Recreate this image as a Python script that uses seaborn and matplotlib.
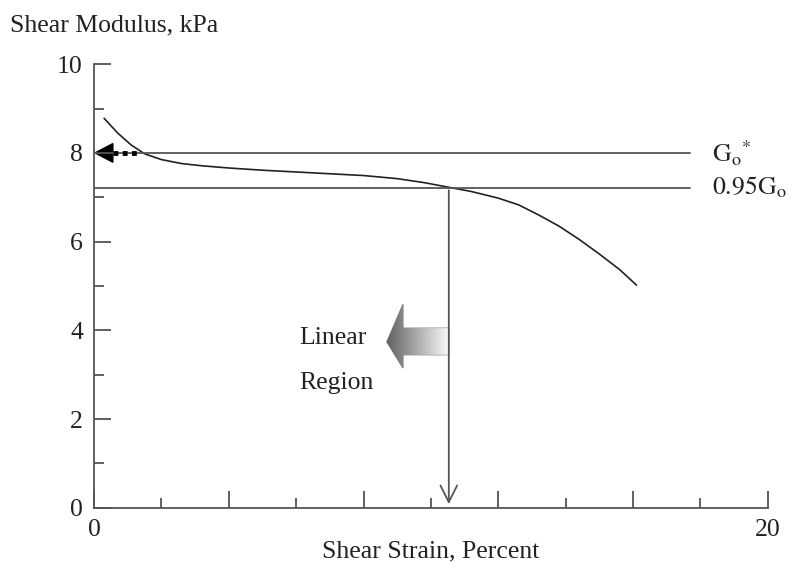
import matplotlib
matplotlib.use('Agg')
import matplotlib.pyplot as plt
from matplotlib.patches import Polygon
import numpy as np
import pandas as pd
import seaborn as sns

# curve
strain = [0.3, 0.7, 1.1, 1.5, 2.0, 2.6, 3.2, 4.0, 5.0, 6.0, 7.0, 8.0, 9.0, 9.8, 10.5,
          11.2, 12.0, 12.6, 13.2, 13.8, 14.4, 15.0, 15.6, 16.1]
modulus = [8.78, 8.45, 8.18, 7.98, 7.85, 7.76, 7.71, 7.66, 7.61, 7.57, 7.53, 7.49, 7.42, 7.33, 7.23,
           7.13, 6.98, 6.83, 6.6, 6.35, 6.05, 5.72, 5.37, 5.02]
g0 = 8.0
g095 = 7.22
strain_linear = 10.53
line_end = 17.7

df = pd.DataFrame({'strain': strain, 'modulus': modulus})

sns.set_style('ticks')
plt.rcParams['font.family'] = ['Liberation Serif', 'DejaVu Serif']
plt.rcParams['mathtext.fontset'] = 'stix'
fs = 18.5

fig = plt.figure(figsize=(7.9, 5.63), dpi=100)
ax = fig.add_axes([0.119, 0.098, 0.853, 0.788])

sns.lineplot(x='strain', y='modulus', data=df, ax=ax, color='#222222', lw=1.2)

# reference lines
ax.plot([0, line_end], [g0, g0], color='#555555', lw=1.3)
ax.plot([0, line_end], [g095, g095], color='#555555', lw=1.3)
ax.text(18.34, g0, r'$\mathrm{G_o}^{*}$', fontsize=fs, va='center', color='#222222')
ax.text(18.34, g095, r'$\mathrm{0.95G_o}$', fontsize=fs, va='center', color='#222222')

# vertical arrow down to the axis
ax.annotate('', xy=(strain_linear, 0.02), xytext=(strain_linear, g095),
            arrowprops=dict(arrowstyle='->', color='#555555', lw=1.3,
                            mutation_scale=30))

# dotted arrow to G0 on the axis
ax.plot([0.55, 1.3], [g0, g0], color='black', lw=3.5, ls=(0, (1, 0.9)))
ax.add_patch(Polygon([[0.03, g0], [0.56, g0 + 0.21], [0.56, g0 - 0.21]],
                     closed=True, color='black', clip_on=False))

# gradient block arrow
pts = [[8.69, 3.74], [9.17, 4.59], [9.17, 4.05], [10.53, 4.05],
       [10.53, 3.45], [9.17, 3.45], [9.17, 3.15]]
arrow = Polygon(pts, closed=True, facecolor='none', edgecolor='#777777', lw=0.8)
ax.add_patch(arrow)
grad = np.linspace(0.38, 0.98, 256).reshape(1, -1)
im = ax.imshow(grad, extent=[8.69, 10.53, 3.15, 4.59], cmap='gray', vmin=0, vmax=1,
               aspect='auto', zorder=1)
im.set_clip_path(arrow)

ax.text(6.1, 3.83, 'Linear', fontsize=fs, va='center', color='#222222')
ax.text(6.1, 2.82, 'Region', fontsize=fs, va='center', color='#222222')

ax.set_xlim(0, 20)
ax.set_ylim(0, 10)
ax.set_xticks([0, 4, 8, 12, 16, 20])
ax.set_xticks([2, 6, 10, 14, 18], minor=True)
ax.set_xticklabels(['0', '', '', '', '', '20'])
ax.set_yticks([0, 2, 4, 6, 8, 10])
ax.set_yticks([1, 3, 5, 7, 9], minor=True)
ax.tick_params(which='major', direction='in', length=12, width=1.2, colors='#444444',
               labelsize=fs, labelcolor='#222222', pad=8)
ax.tick_params(which='minor', direction='in', length=7, width=1.2, colors='#444444')
sns.despine(ax=ax)
for s in ['left', 'bottom']:
    ax.spines[s].set_color('#555555')
    ax.spines[s].set_linewidth(1.3)

ax.set_xlabel('Shear Strain, Percent', fontsize=fs, color='#222222', labelpad=0)
ax.set_ylabel('')
fig.text(0.013, 0.955, 'Shear Modulus, kPa', fontsize=fs, color='#222222', va='center')

fig.savefig('out.png', dpi=100)
